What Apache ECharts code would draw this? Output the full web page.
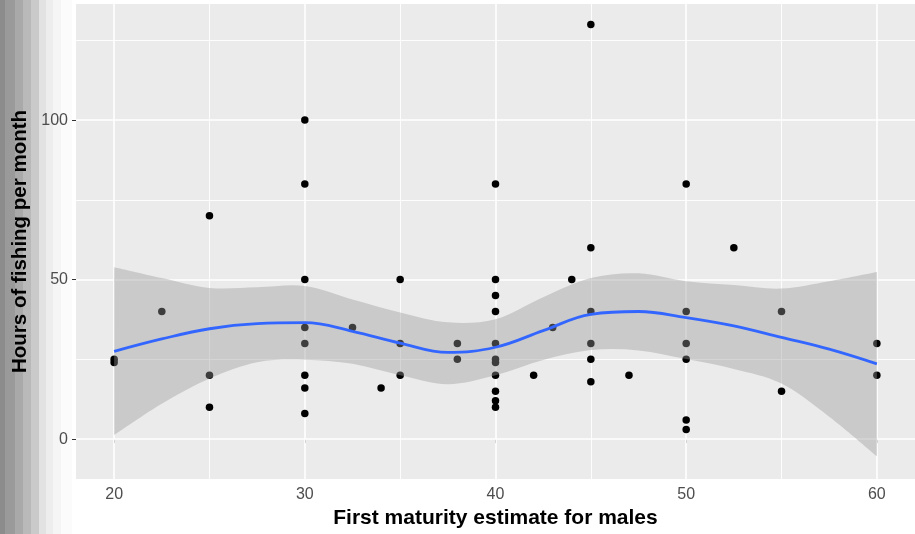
<!DOCTYPE html>
<html>
<head>
<meta charset="utf-8">
<script src="https://cdn.jsdelivr.net/npm/echarts@6/dist/echarts.min.js"></script>
<style>
html,body{margin:0;padding:0;background:#fff;}
#chart{width:915px;height:534px;}
</style>
</head>
<body>
<div id="chart"></div>
<script>
// ---- data ----
var xTicks = [20, 30, 40, 50, 60];
var xMinor = [25, 35, 45, 55];
var yTicks = [0, 50, 100];
var yMinor = [25, 75, 125];

var pointX = [20, 20, 22.5, 25, 25, 25,
  30, 30, 30, 30, 30, 30, 30, 30,
  32.5, 34, 35, 35, 35, 38, 38,
  40, 40, 40, 40, 40, 40, 40, 40, 40, 40, 40,
  42, 43, 44,
  45, 45, 45, 45, 45, 45,
  47,
  50, 50, 50, 50, 50, 50,
  52.5, 55, 55, 60, 60];
var pointY = [24, 25, 40, 70, 20, 10,
  100, 80, 50, 35, 30, 20, 16, 8,
  35, 16, 50, 30, 20, 30, 25,
  80, 50, 45, 40, 30, 25, 24, 20, 15, 12, 10,
  20, 35, 50,
  130, 60, 40, 30, 25, 18,
  20,
  80, 40, 30, 25, 6, 3,
  60, 40, 15, 30, 20];

var bandX     = [20, 22.5, 25, 27.5, 30, 32.5, 35, 37.5, 40, 42.5, 45, 47.5, 50, 52.5, 55, 57.5, 60];
var fitY      = [27.5, 31.4, 34.6, 36.2, 36.5, 33.8, 30.1, 27.2, 28.8, 34.0, 39.1, 40.0, 38.1, 35.5, 31.9, 28.2, 23.6];
var bandLower = [1.3, 11.1, 19.0, 24.1, 24.9, 23.6, 20.0, 17.2, 20.0, 24.8, 27.9, 27.8, 25.1, 22.0, 17.4, 7.0, -5.4];
var bandUpper = [53.9, 50.5, 47.4, 47.6, 48.0, 43.8, 39.7, 36.6, 37.6, 44.5, 50.5, 52.0, 49.5, 48.3, 47.2, 49.5, 52.4];

var xTitle = 'First maturity estimate for males';
var yTitle = 'Hours of fishing per month';

// ---- build options ----
var FONT = '"Liberation Sans", Arial, Helvetica, sans-serif';
var scatterData = pointX.map(function (x, i) { return [x, pointY[i]]; });
var bandData = bandX.map(function (x, i) { return [x, bandLower[i], bandUpper[i]]; });
var fitData = bandX.map(function (x, i) { return [x, fitY[i]]; });

var gridLines = []
  .concat(xTicks.map(function (v) { return { xAxis: v, lineStyle: { width: 1.6 } }; }))
  .concat(xMinor.map(function (v) { return { xAxis: v, lineStyle: { width: 0.9 } }; }))
  .concat(yTicks.map(function (v) { return { yAxis: v, lineStyle: { width: 1.6 } }; }))
  .concat(yMinor.map(function (v) { return { yAxis: v, lineStyle: { width: 0.9 } }; }));

var stripes = [
  [0, 5, '#8c8c8c'], [5, 15, '#9a9a9a'], [15, 23, '#a9a9a9'], [23, 31, '#b9b9b9'],
  [31, 39, '#cacaca'], [39, 46, '#e2e2e2'], [46, 53, '#ededed'], [53, 61, '#f5f5f5'], [61, 72, '#fbfbfb']
];
var graphics = stripes.map(function (s) {
  return { type: 'rect', z: -10, silent: true,
    shape: { x: s[0], y: 0, width: s[1] - s[0], height: 534 },
    style: { fill: s[2] } };
});

// smooth open curve through pixel points (Catmull-Rom -> cubic Bezier)
function curveThrough(pts, start) {
  var d = (start ? 'M' : 'L') + pts[0][0] + ',' + pts[0][1];
  for (var i = 0; i < pts.length - 1; i++) {
    var p0 = pts[i - 1] || pts[i], p1 = pts[i], p2 = pts[i + 1], p3 = pts[i + 2] || pts[i + 1];
    var c1x = p1[0] + (p2[0] - p0[0]) / 6, c1y = p1[1] + (p2[1] - p0[1]) / 6;
    var c2x = p2[0] - (p3[0] - p1[0]) / 6, c2y = p2[1] - (p3[1] - p1[1]) / 6;
    d += ' C' + c1x + ',' + c1y + ' ' + c2x + ',' + c2y + ' ' + p2[0] + ',' + p2[1];
  }
  return d;
}

function renderBand(params, api) {
  if (params.dataIndex !== 0) return null;
  var n = params.dataInsideLength;
  var up = [], lo = [];
  for (var i = 0; i < n; i++) {
    var x = api.value(0, i);
    up.push(api.coord([x, api.value(2, i)]));
    lo.push(api.coord([x, api.value(1, i)]));
  }
  lo.reverse();
  var d = curveThrough(up, true) + ' ' + curveThrough(lo, false) + ' Z';
  return {
    type: 'path',
    shape: { pathData: d },
    style: { fill: 'rgba(153,153,153,0.4)', stroke: null }
  };
}

var chart = echarts.init(document.getElementById('chart'), null, { renderer: 'canvas' });
chart.setOption({
  animation: false,
  backgroundColor: '#ffffff',
  graphic: graphics,
  grid: { left: 76, top: 4, width: 842, height: 479, show: true, backgroundColor: '#EBEBEB', borderWidth: 0 },
  xAxis: {
    type: 'value', min: 18, max: 62,
    axisLine: { show: false },
    axisTick: { show: true, length: 4, lineStyle: { color: '#333333', width: 1 }, customValues: xTicks },
    axisLabel: { customValues: xTicks, color: '#4D4D4D', fontSize: 16, fontFamily: FONT, margin: 8 },
    splitLine: { show: false },
    name: xTitle, nameLocation: 'middle', nameGap: 29,
    nameTextStyle: { color: '#000', fontSize: 21, fontWeight: 'bold', fontFamily: FONT }
  },
  yAxis: {
    type: 'value', min: -12.5, max: 136.4,
    axisLine: { show: false },
    axisTick: { show: true, length: 4, lineStyle: { color: '#333333', width: 1 }, customValues: yTicks },
    axisLabel: { customValues: yTicks, color: '#4D4D4D', fontSize: 16, fontFamily: FONT, margin: 8 },
    splitLine: { show: false },
    name: yTitle, nameLocation: 'middle', nameGap: 40,
    nameTextStyle: { color: '#000', fontSize: 20.5, fontWeight: 'bold', fontFamily: FONT }
  },
  series: [
    {
      type: 'scatter', name: 'points', data: scatterData, z: 2,
      symbolSize: 7.5, itemStyle: { color: '#000000', opacity: 1 }, silent: true,
      markLine: {
        z: 1, silent: true, symbol: ['none', 'none'], animation: false,
        label: { show: false },
        lineStyle: { color: '#ffffff', type: 'solid' },
        emphasis: { disabled: true },
        data: gridLines
      }
    },
    {
      type: 'custom', name: 'band', data: bandData, z: 3, silent: true,
      encode: { x: 0, y: [1, 2] },
      renderItem: renderBand
    },
    {
      type: 'line', name: 'fit', data: fitData, smooth: 0.4, symbol: 'none', z: 4, silent: true,
      lineStyle: { color: '#3366FF', width: 2.8 }
    }
  ]
});
</script>
</body>
</html>
